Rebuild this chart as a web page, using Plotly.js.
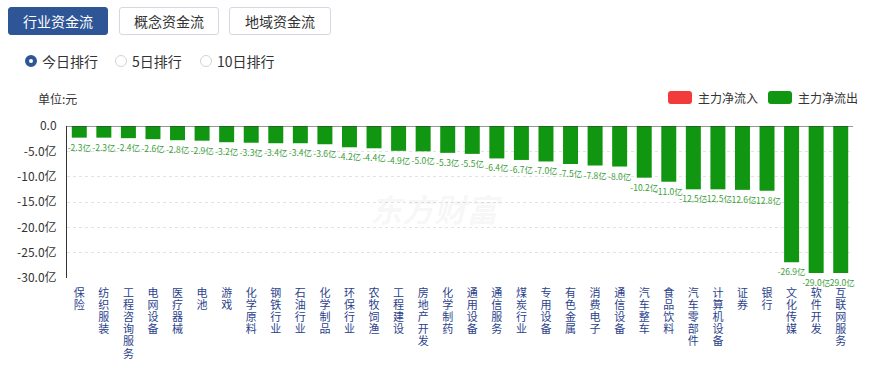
<!DOCTYPE html>
<html>
<head>
<meta charset="utf-8">
<script src="https://cdn.plot.ly/plotly-3.0.1.min.js"></script>
<style>
body{margin:0;background:#fff;font-family:"Noto Sans CJK SC","Microsoft YaHei",sans-serif;}
#wrap{position:relative;width:886px;height:367px;overflow:hidden;background:#fff;}
#chart{position:absolute;left:0;top:0;width:886px;height:367px;}
.btn{position:absolute;top:7px;height:28px;width:100px;box-sizing:border-box;border:1px solid #d3d9e3;border-radius:3px;background:#fff;color:#333;font-size:14px;line-height:26px;text-align:center;z-index:2;}
.btn.active{background:#2e5596;border-color:#2e5596;color:#fff;}
.radio{position:absolute;top:52px;height:18px;font-size:14px;line-height:18px;color:#333;z-index:2;padding-left:17px;white-space:nowrap;}
.radio:before{content:'';position:absolute;left:0;top:3px;width:12px;height:12px;border-radius:50%;border:1px solid #d4d4d4;box-sizing:border-box;background:#fff;}
.radio.on:before{border:4px solid #2e5596;}
.lg{position:absolute;top:91px;height:13px;z-index:2;font-size:12px;line-height:13px;color:#333;white-space:nowrap;padding-left:30px;}
.lg:before{content:'';position:absolute;left:0;top:0;width:24px;height:13px;border-radius:3px;}
.lg.in:before{background:#f23b3b;}
.lg.out:before{background:#109610;}
</style>
</head>
<body>
<div id="wrap">
  <div class="btn active" style="left:8px;">行业资金流</div>
  <div class="btn" style="left:119px;">概念资金流</div>
  <div class="btn" style="left:229px;width:102px;">地域资金流</div>
  <div class="radio on" style="left:25px;">今日排行</div>
  <div class="radio" style="left:115px;">5日排行</div>
  <div class="radio" style="left:200px;">10日排行</div>
  <div class="lg in" style="left:668px;">主力净流入</div>
  <div class="lg out" style="left:768px;">主力净流出</div>
  <div id="chart"></div>
</div>
<script>
var categories = ['保险','纺织服装','工程咨询服务','电网设备','医疗器械','电池','游戏','化学原料','钢铁行业','石油行业','化学制品','环保行业','农牧饲渔','工程建设','房地产开发','化学制药','通用设备','通信服务','煤炭行业','专用设备','有色金属','消费电子','通信设备','汽车整车','食品饮料','汽车零部件','计算机设备','证券','银行','文化传媒','软件开发','互联网服务'];
var values = [-2.3,-2.3,-2.4,-2.6,-2.8,-2.9,-3.2,-3.3,-3.4,-3.4,-3.6,-4.2,-4.4,-4.9,-5.0,-5.3,-5.5,-6.4,-6.7,-7.0,-7.5,-7.8,-8.0,-10.2,-11.0,-12.5,-12.5,-12.6,-12.8,-26.9,-29.0,-29.0];
var yTickVals = [0,-5,-10,-15,-20,-25,-30];
var yTickText = ['0.0','-5.0亿','-10.0亿','-15.0亿','-20.0亿','-25.0亿','-30.0亿'];
var seriesNames = ['主力净流入','主力净流出'];

var FONT = '"Noto Sans CJK SC", "Microsoft YaHei", sans-serif';
var xTickText = categories.map(function(c){ return c.split('').join('<br>'); });
var inflow = values.map(function(v){ return v > 0 ? v : null; });
var outflow = values.map(function(v){ return v < 0 ? v : null; });
var labelText = values.map(function(v){ return v.toFixed(1) + '亿'; });

var traces = [
  {type:'bar', name:seriesNames[0], x:categories, y:inflow, marker:{color:'#f23b3b'},
   text:labelText, textposition:'outside', constraintext:'none', cliponaxis:false,
   textfont:{size:8.5, color:'#e04040', family:FONT}, hoverinfo:'none'},
  {type:'bar', name:seriesNames[1], x:categories, y:outflow, marker:{color:'#109610'},
   text:labelText, textposition:'outside', constraintext:'none', cliponaxis:false, textangle:0,
   textfont:{size:8.5, color:'#3a9e3a', family:FONT}, hoverinfo:'none'}
];

var layout = {
  width:886, height:367,
  margin:{l:67, r:33, t:126, b:89, pad:0},
  paper_bgcolor:'rgba(0,0,0,0)', plot_bgcolor:'rgba(0,0,0,0)',
  barmode:'relative', bargap:0.39,
  showlegend:false,
  font:{family:FONT, color:'#333'},
  xaxis:{type:'category', tickmode:'array', tickvals:categories, ticktext:xTickText,
         tickangle:0, tickfont:{size:11, color:'#2b3f8c', family:FONT}, ticklabelstandoff:7,
         showgrid:false, showline:false, zeroline:false, ticks:'', automargin:false, fixedrange:true},
  yaxis:{range:[-30,0], tickmode:'array', tickvals:yTickVals, ticktext:yTickText,
         tickfont:{size:12, color:'#333', family:FONT}, showgrid:true, gridcolor:'#e3e3e3',
         griddash:'3px,3px', showline:true, linecolor:'#333', linewidth:1, zeroline:false,
         ticks:'', ticklabelstandoff:7, automargin:false, fixedrange:true},
  shapes:[{type:'line', xref:'paper', x0:0, x1:1, yref:'y', y0:0, y1:0, line:{color:'#333', width:1}, layer:'above'}],
  annotations:[
    {text:'单位:元', xref:'paper', yref:'paper', x:-0.0394, y:1.184, xanchor:'left', yanchor:'middle', showarrow:false, font:{size:12, color:'#333', family:FONT}},
    {text:'<b><i>东方财富</i></b>', xref:'paper', yref:'paper', x:0.47, y:0.46, xanchor:'center', yanchor:'middle', showarrow:false, font:{size:32, color:'rgba(0,0,0,0.05)', family:FONT}}
  ]
};

function squeezeLabels(){
  var texts = document.querySelectorAll('#chart .xtick text');
  texts.forEach(function(t){
    var lines = t.querySelectorAll('tspan.line');
    lines.forEach(function(ln, i){ ln.setAttribute('dy', (i*1.1) + 'em'); });
  });
}

Plotly.newPlot('chart', traces, layout, {displayModeBar:false, staticPlot:true}).then(function(gd){
  squeezeLabels();
  gd.on('plotly_afterplot', squeezeLabels);
});
</script>
</body>
</html>
